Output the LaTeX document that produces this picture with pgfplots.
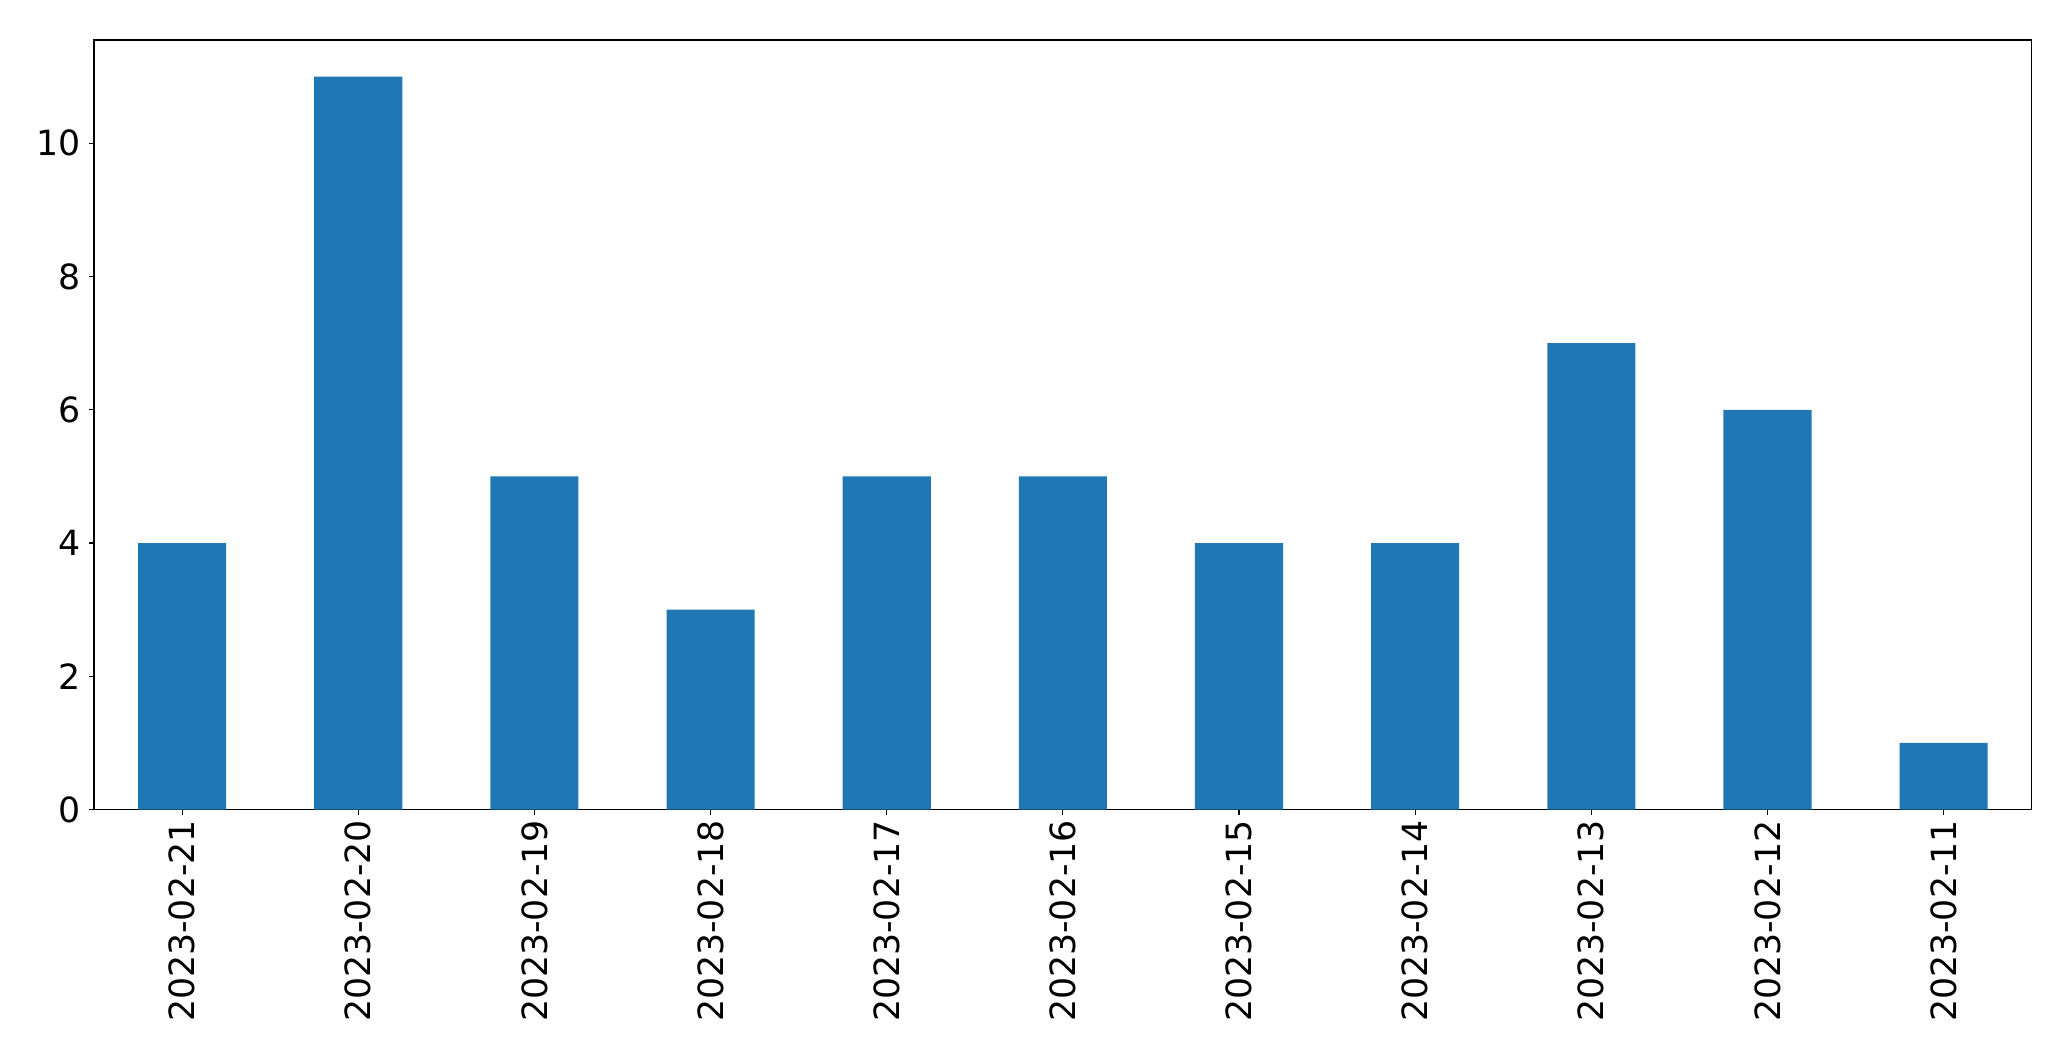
\documentclass[border=0pt]{standalone}
\usepackage{fontspec}
\setmainfont{DejaVu Sans}
\usepackage{pgfplots}
\pgfplotsset{compat=1.18}
\definecolor{barblue}{HTML}{1F77B4}

\begin{document}
\begin{tikzpicture}
	% full figure area (matplotlib canvas, 1px = 0.72pt)
	\path (-67.7pt,-181.2pt) rectangle ++(1491pt,764pt);
	\begin{axis}[
		at={(0,0)}, anchor=south west,
		scale only axis,
		width=1395pt,
		height=554pt,
		xmin=-0.5, xmax=10.5,
		ymin=0, ymax=11.55,
		xtick={0,...,10},
		xticklabels={2023-02-21,2023-02-20,2023-02-19,2023-02-18,2023-02-17,2023-02-16,2023-02-15,2023-02-14,2023-02-13,2023-02-12,2023-02-11},
		ytick={0,2,...,10},
		tick align=outside,
		tick pos=left,
		major tick length=3.6pt,
		axis line style={line width=0.8pt},
		every tick/.style={black, line width=0.8pt},
		/pgf/number format/assume math mode=true,
		ticklabel style={font=\fontsize{25}{30}\selectfont},
		xticklabel style={rotate=90, anchor=east, inner sep=0pt, outer sep=0pt},
		xticklabel shift=4pt,
		yticklabel style={inner sep=0pt, xshift=-6pt},
		ybar,
		bar width=0.5,
	]
	\addplot[fill=barblue, draw=none, bar shift=0pt] coordinates {
		(0,4) (1,11) (2,5) (3,3) (4,5) (5,5) (6,4) (7,4) (8,7) (9,6) (10,1)
	};
	\end{axis}
\end{tikzpicture}
\end{document}
